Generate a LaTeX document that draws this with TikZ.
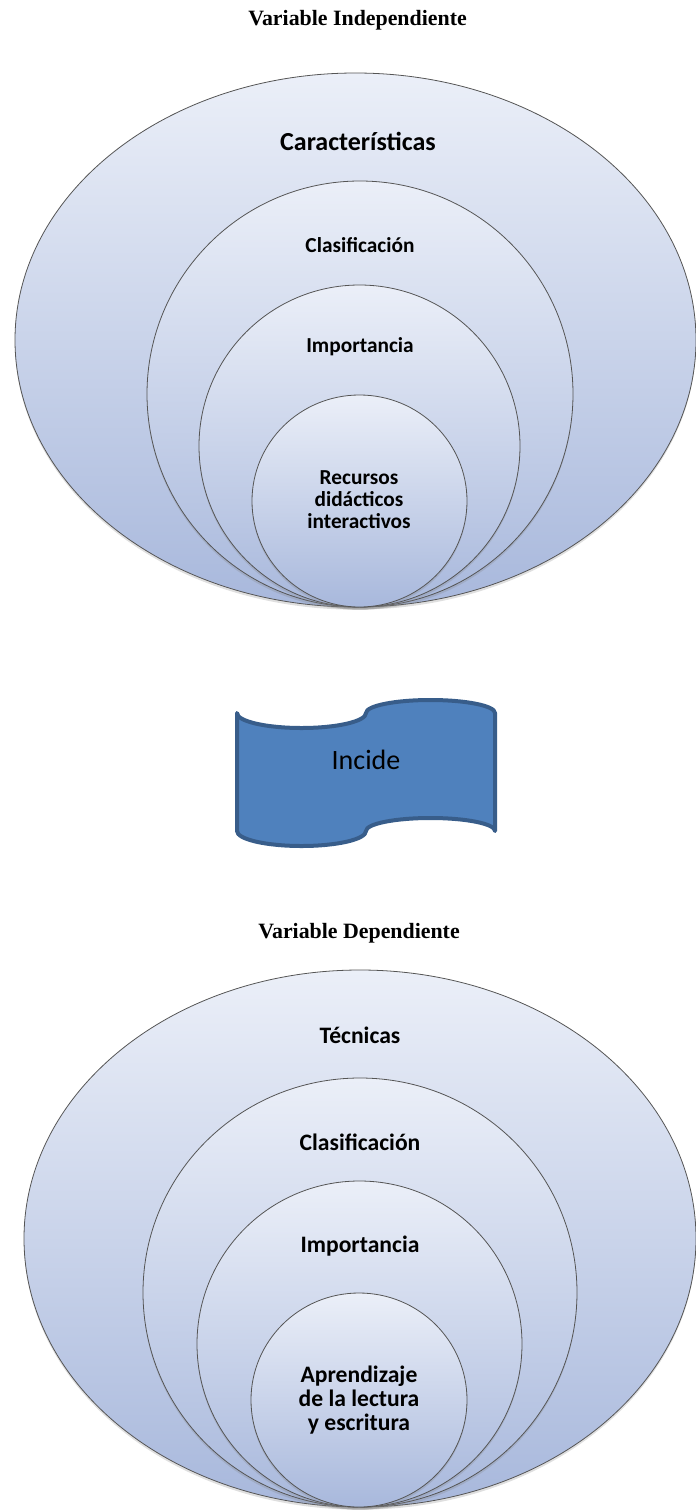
\documentclass[tikz,border=0pt]{standalone}
\usepackage{fontspec}
\setmainfont{Carlito}
\newfontfamily\titlefont{Liberation Serif}
\usetikzlibrary{shadows}

\definecolor{ringtop}{RGB}{235,239,248}
\definecolor{ringbottom}{RGB}{168,184,220}
\definecolor{ringline}{RGB}{85,85,85}
\definecolor{bannerfill}{RGB}{79,129,189}
\definecolor{bannerline}{RGB}{56,93,138}

\tikzset{
  ring/.style={draw=ringline, line width=0.6pt, top color=ringtop, bottom color=ringbottom,
    drop shadow={shadow xshift=0pt, shadow yshift=-2pt, opacity=0.25}},
  heading/.style={font=\titlefont\bfseries\fontsize{16.4}{18}\selectfont},
  biglabel/.style={font=\bfseries\fontsize{19.5}{22}\selectfont},
  toplabel/.style={font=\bfseries\fontsize{16}{16.5}\selectfont, align=center},
  lowlabel/.style={font=\bfseries\fontsize{17.7}{18}\selectfont, align=center},
  banner/.style={draw=bannerline, fill=bannerfill, line width=3pt, line join=round}
}

\begin{document}
\begin{tikzpicture}[x=0.75pt, y=-0.75pt]
\useasboundingbox (0,0) rectangle (696,1510);

% upper circles
\foreach \cx/\cy/\rx/\ry in {355.5/340/340.5/267, 360/394/213/213, 359.5/446/160.5/161, 359.5/501/107.5/106}
  \draw[ring] (\cx,\cy) ellipse[x radius=\rx, y radius=\ry];
\node[heading] (indep) at (357.5,20) {Variable Independiente};
\node[biglabel] (carac) at (358,141) {Características};
\node[toplabel] (clasifA) at (360,245) {Clasificación};
\node[toplabel] (importA) at (360,347) {Importancia};
\node[toplabel] (recursos) at (359,500) {Recursos\\didácticos\\interactivos};

% banner in the middle
\draw[banner] (237,713) arc[start angle=180, end angle=0, x radius=64.5, y radius=15]
  arc[start angle=180, end angle=360, x radius=64.5, y radius=13] -- (495,831)
  arc[start angle=0, end angle=-180, x radius=64.5, y radius=13]
  arc[start angle=0, end angle=180, x radius=64.5, y radius=15] -- cycle;
\node[font=\fontsize{21}{24}\selectfont] (incide) at (366,760) {Incide};

% lower circles
\foreach \cx/\cy/\rx/\ry in {360/1238.5/336/268.5, 360/1292.5/217/214.5, 359.5/1344/162.5/163, 359/1400/108/107}
  \draw[ring] (\cx,\cy) ellipse[x radius=\rx, y radius=\ry];
\node[heading] (dep) at (359,933) {Variable Dependiente};
\node[lowlabel] (tecnicas) at (360,1035) {Técnicas};
\node[lowlabel] (clasifB) at (360,1142) {Clasificación};
\node[lowlabel] (importB) at (360,1246) {Importancia};
\node[lowlabel] (aprend) at (359,1400) {Aprendizaje\\de la lectura\\y escritura};
\end{tikzpicture}
\end{document}
